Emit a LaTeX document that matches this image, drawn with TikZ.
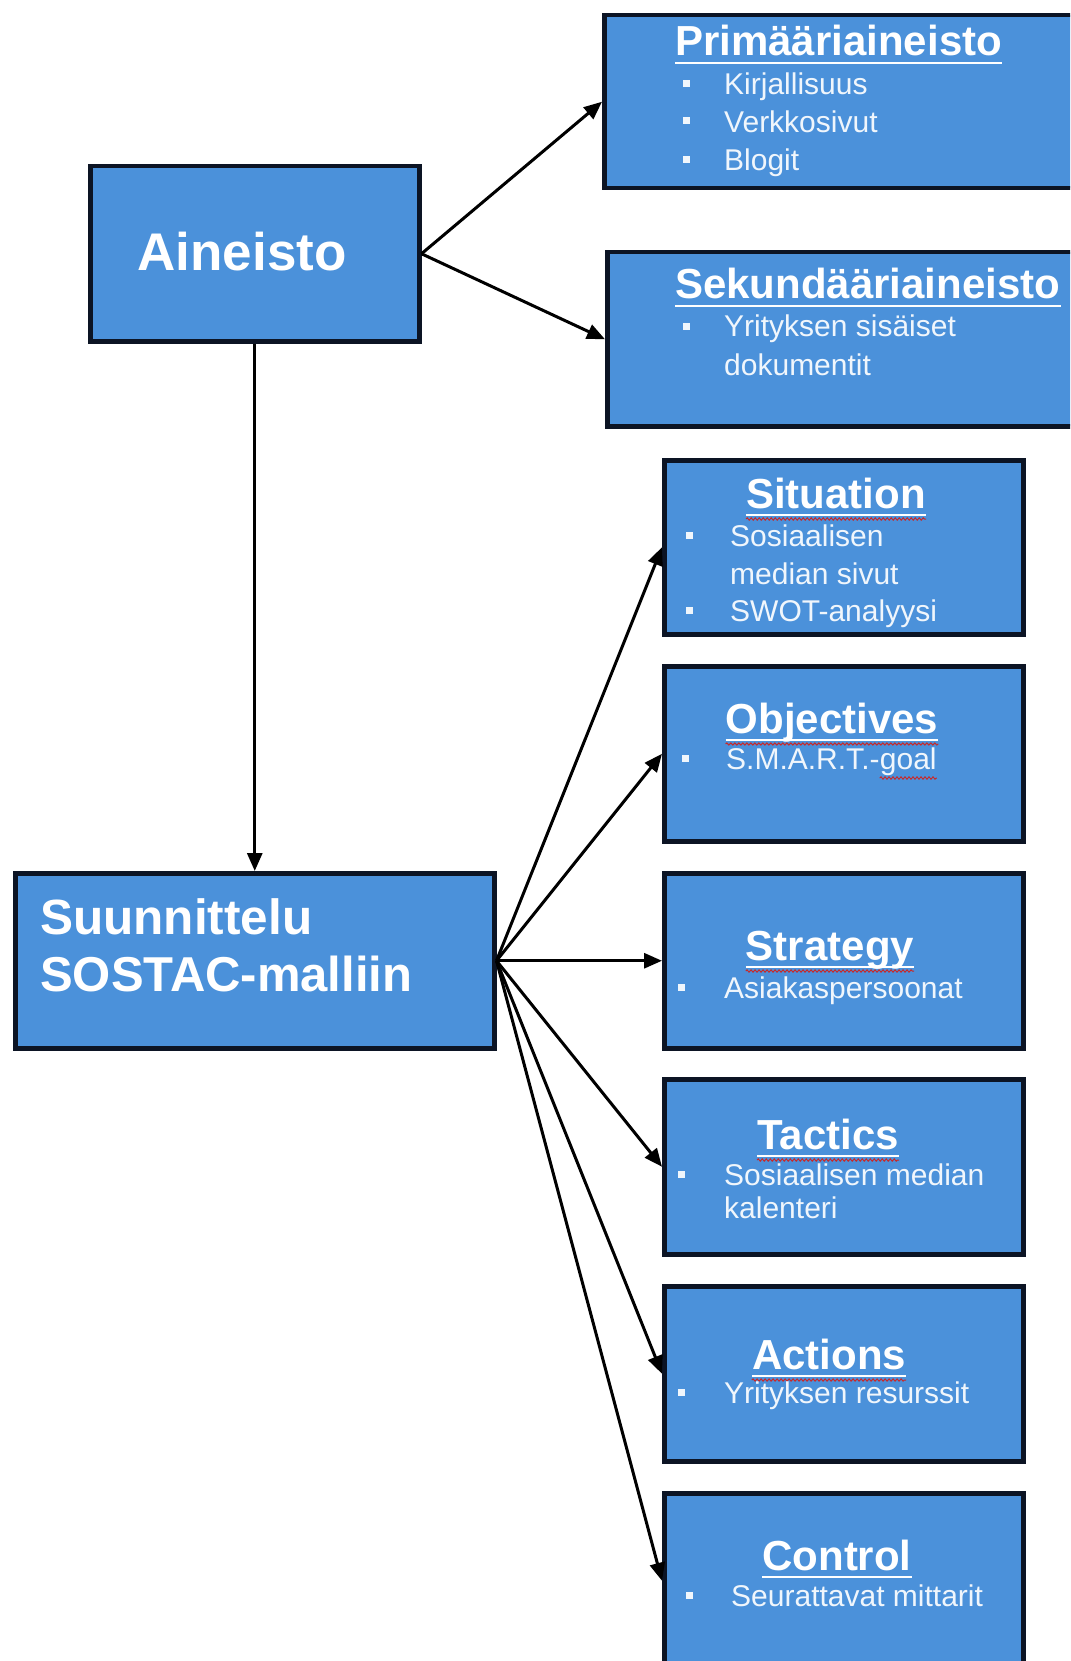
\documentclass[tikz,border=0pt]{standalone}
\usepackage{fontspec}
\setmainfont{Liberation Sans}
\usetikzlibrary{arrows.meta,decorations.pathmorphing}
\definecolor{boxblue}{RGB}{75,145,218}
\definecolor{edgecol}{RGB}{12,20,36}
\definecolor{spellred}{RGB}{200,40,40}
\definecolor{txtwhite}{RGB}{240,246,252}
\begin{document}
\begin{tikzpicture}[x=1pt,y=-1pt,
 box/.style={draw=edgecol, fill=boxblue, line width=4.5pt, rectangle, inner sep=0pt, anchor=north west},
 conn/.style={line width=3pt, -{Triangle[length=18pt,width=15pt]}, black},
 ttl/.style={text=white, inner sep=0pt, anchor=base, font=\fontsize{42}{48}\selectfont\bfseries},
 itm/.style={text=txtwhite, inner sep=0pt, anchor=base west, font=\fontsize{30}{36}\selectfont},
 bul/.style={fill=txtwhite, inner sep=0pt, minimum size=7pt, rectangle},
 ulw/.style={white, line width=2.5pt},
 wavy/.style={spellred, line width=1pt, decorate, decoration={snake, amplitude=1.1pt, segment length=4pt}}
]
\fill[white] (0,0) rectangle (1070,1661);
\useasboundingbox (0,0) rectangle (1070,1661);
\clip (0,0) rectangle (1070,1661);

% boxes
\node[box, minimum width=329pt, minimum height=175pt] (ain) at (88,164) {};
\node[box, minimum width=500pt, minimum height=173pt] (prim) at (602,13) {};
\node[box, minimum width=500pt, minimum height=174pt] (sek) at (605,250) {};
\node[box, minimum width=479pt, minimum height=175pt] (suu) at (13,871) {};
\node[box, minimum width=359pt, minimum height=174pt] (sit) at (662,458) {};
\node[box, minimum width=359pt, minimum height=175pt] (obj) at (662,664) {};
\node[box, minimum width=359pt, minimum height=175pt] (str) at (662,871) {};
\node[box, minimum width=359pt, minimum height=175pt] (tac) at (662,1077) {};
\node[box, minimum width=359pt, minimum height=175pt] (act) at (662,1284) {};
\node[box, minimum width=359pt, minimum height=175pt] (con) at (662,1491) {};

% connectors
\draw[conn] (ain.east) -- (prim.west);
\draw[conn] (ain.east) -- (sek.west);
\draw[conn] (ain.south) -- (suu.north);
\draw[conn] (suu.east) -- (sit.west);
\draw[conn] (suu.east) -- (obj.west);
\draw[conn] (suu.east) -- (str.west);
\draw[conn] (suu.east) -- (tac.west);
\draw[conn] (suu.east) -- (act.west);
\draw[conn] (suu.east) -- (con.west);

% Aineisto
\node[ttl, font=\fontsize{53}{60}\selectfont\bfseries] (aint) at (242,271) {Aineisto};

% Suunnittelu
\node[ttl, anchor=base west, font=\fontsize{49.5}{56}\selectfont\bfseries] (suu1) at (40,934) {Suunnittelu};
\node[ttl, anchor=base west, font=\fontsize{49}{56}\selectfont\bfseries] (suu2) at (40,991) {SOSTAC-malliin};

% Primaariaineisto
\node[ttl, anchor=base west] (primt) at (675,56) {Primääriaineisto};
\draw[ulw] ([yshift=-7pt]primt.base west) -- ([yshift=-7pt]primt.base east);
\node[bul] (pb1) at (686,84) {};
\node[itm] (pi1) at (724,95) {Kirjallisuus};
\node[bul] (pb2) at (686,121) {};
\node[itm] (pi2) at (724,133) {Verkkosivut};
\node[bul] (pb3) at (686,160) {};
\node[itm] (pi3) at (724,171) {Blogit};

% Sekundaariaineisto
\node[ttl, anchor=base west] (sekt) at (675,299) {Sekundääriaineisto};
\draw[ulw] ([yshift=-7pt]sekt.base west) -- ([yshift=-7pt]sekt.base east);
\node[bul] (sb1) at (686,326) {};
\node[itm] (si1) at (724,337) {Yrityksen sisäiset};
\node[itm] (si2) at (724,375) {dokumentit};

% Situation
\node[ttl] (sitt) at (836,508) {Situation};
\draw[ulw] ([yshift=-7pt]sitt.base west) -- ([yshift=-7pt]sitt.base east);
\draw[wavy] ([yshift=-11pt]sitt.base west) -- ([yshift=-11pt]sitt.base east);
\node[bul] (tb1) at (689,535) {};
\node[itm] (ti1) at (730,546) {Sosiaalisen};
\node[itm] (ti2) at (730,584) {median sivut};
\node[bul] (tb2) at (689,610) {};
\node[itm] (ti3) at (730,621) {SWOT-analyysi};

% Objectives
\node[ttl] (objt) at (832,733) {Objectives};
\draw[ulw] ([yshift=-7pt]objt.base west) -- ([yshift=-7pt]objt.base east);
\draw[wavy] ([yshift=-11pt]objt.base west) -- ([yshift=-11pt]objt.base east);
\node[bul] (ob1) at (685,758) {};
\node[itm] (oi1) at (726,769) {S.M.A.R.T.-};
\node[itm] (oi2) at (oi1.base east) {goal};
\draw[wavy] ([yshift=-9pt]oi2.base west) -- ([yshift=-9pt]oi2.base east);

% Strategy
\node[ttl] (strt) at (830,960) {Strategy};
\draw[ulw] ([yshift=-7pt]strt.base west) -- ([yshift=-7pt]strt.base east);
\draw[wavy] ([yshift=-11pt]strt.base west) -- ([yshift=-11pt]strt.base east);
\node[bul] (rb1) at (681,987) {};
\node[itm] (ri1) at (724,998) {Asiakaspersoonat};

% Tactics
\node[ttl] (tact) at (828,1149) {Tactics};
\draw[ulw] ([yshift=-7pt]tact.base west) -- ([yshift=-7pt]tact.base east);
\draw[wavy] ([yshift=-11pt]tact.base west) -- ([yshift=-11pt]tact.base east);
\node[bul] (cb1) at (681,1174) {};
\node[itm] (ci1) at (724,1185) {Sosiaalisen median};
\node[itm] (ci2) at (724,1218) {kalenteri};

% Actions
\node[ttl] (actt) at (829,1369) {Actions};
\draw[ulw] ([yshift=-7pt]actt.base west) -- ([yshift=-7pt]actt.base east);
\draw[wavy] ([yshift=-11pt]actt.base west) -- ([yshift=-11pt]actt.base east);
\node[bul] (ab1) at (681,1392) {};
\node[itm] (ai1) at (724,1403) {Yrityksen resurssit};

% Control
\node[ttl] (cont) at (837,1570) {Control};
\draw[ulw] ([yshift=-7pt]cont.base west) -- ([yshift=-7pt]cont.base east);
\node[bul] (nb1) at (689,1595) {};
\node[itm] (ni1) at (731,1606) {Seurattavat mittarit};
\end{tikzpicture}
\end{document}
